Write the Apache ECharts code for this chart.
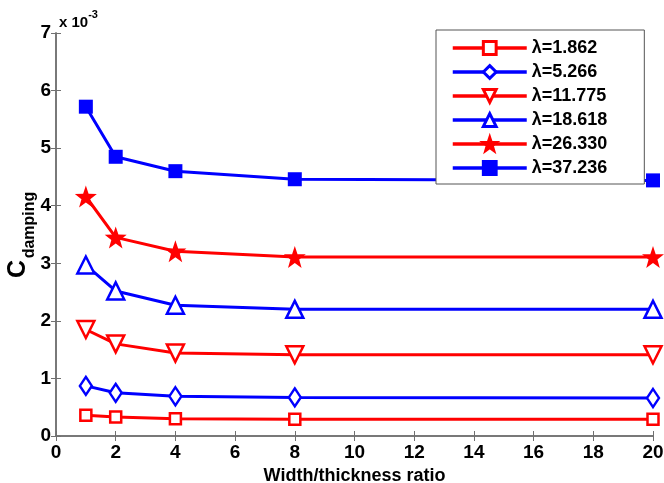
<!DOCTYPE html>
<html>
<head>
<meta charset="utf-8">
<script src="https://cdn.jsdelivr.net/npm/echarts@6/dist/echarts.min.js"></script>
<style>
  html, body { margin: 0; padding: 0; background: #fff; }
  #chart { width: 664px; height: 483px; }
</style>
</head>
<body>
<div id="chart"></div>
<script>
// width/thickness ratios
const ratios = [1, 2, 4, 8, 20];
// C_damping values, in units of 1e-3
const lambda1862 = [0.36, 0.33, 0.30, 0.29, 0.29];
const lambda5266 = [0.87, 0.75, 0.69, 0.67, 0.66];
const lambda11775 = [1.85, 1.60, 1.44, 1.41, 1.41];
const lambda18618 = [2.97, 2.52, 2.27, 2.20, 2.20];
const lambda26330 = [4.16, 3.45, 3.21, 3.11, 3.11];
const lambda37236 = [5.72, 4.85, 4.60, 4.46, 4.44];
const seriesNames = ['λ=1.862', 'λ=5.266', 'λ=11.775', 'λ=18.618', 'λ=26.330', 'λ=37.236'];

const RED = '#ff0000';
const BLUE = '#0000ff';
const STAR = 'path://M0,-10L2.35,-3.24L9.51,-3.09L3.8,1.24L5.88,8.09L0,4L-5.88,8.09L-3.8,1.24L-9.51,-3.09L-2.35,-3.24Z';
const FONT = '"Liberation Sans", Arial, sans-serif';

function pairs(ys) {
  return ratios.map((x, i) => [x, ys[i]]);
}

function makeSeries(name, ys, color, symbol, size, hollow, rotate) {
  return {
    name: name,
    type: 'line',
    data: pairs(ys),
    symbol: symbol,
    symbolSize: size,
    symbolRotate: rotate || 0,
    showAllSymbol: true,
    lineStyle: { color: color, width: 3 },
    itemStyle: {
      color: hollow ? '#fff' : color,
      borderColor: color,
      borderWidth: hollow ? 2.5 : 0
    },
    emphasis: { disabled: true },
    animation: false
  };
}

const chart = echarts.init(document.getElementById('chart'));

const axisLine = { show: true, lineStyle: { color: '#707070', width: 1.5 } };
const axisTick = { show: true, inside: true, length: 5, lineStyle: { color: '#707070', width: 1 } };
const axisLabel = { color: '#000', fontSize: 19, fontWeight: 'bold', fontFamily: FONT };

chart.setOption({
  backgroundColor: '#fff',
  animation: false,
  grid: { left: 56, right: 11, top: 33, bottom: 47, containLabel: false, outerBoundsMode: 'none' },
  xAxis: [
    {
      type: 'value', min: 0, max: 20, interval: 2, position: 'bottom',
      axisLine: axisLine, axisTick: axisTick,
      axisLabel: Object.assign({ margin: 7 }, axisLabel),
      splitLine: { show: false },
      name: 'Width/thickness ratio', nameLocation: 'middle', nameGap: 29,
      nameTextStyle: { color: '#000', fontSize: 18, fontWeight: 'bold', fontFamily: FONT }
    },
    {
      type: 'value', min: 0, max: 20, interval: 2, position: 'top',
      axisLine: axisLine, axisTick: axisTick, axisLabel: { show: false }, splitLine: { show: false }
    }
  ],
  yAxis: [
    {
      type: 'value', min: 0, max: 7, interval: 1, position: 'left',
      axisLine: axisLine, axisTick: axisTick,
      axisLabel: Object.assign({ margin: 5 }, axisLabel),
      splitLine: { show: false }
    },
    {
      type: 'value', min: 0, max: 7, interval: 1, position: 'right',
      axisLine: axisLine, axisTick: axisTick, axisLabel: { show: false }, splitLine: { show: false }
    }
  ],
  legend: {
    orient: 'vertical',
    left: 436,
    top: 30,
    padding: [9, 37, 7, 15],
    itemWidth: 74,
    itemHeight: 16,
    itemGap: 6,
    backgroundColor: '#fff',
    borderColor: '#555',
    borderWidth: 1,
    borderRadius: 0,
    selectedMode: false,
    lineStyle: { width: 3.5 },
    itemStyle: { borderWidth: 3 },
    textStyle: { color: '#000', fontSize: 18, fontWeight: 'bold', fontFamily: FONT },
    data: seriesNames
  },
  graphic: [
    {
      type: 'text', left: 59, top: 9,
      style: {
        text: '{a|x 10}{b|-3}',
        rich: {
          a: { fontSize: 15, fontWeight: 'bold', fontFamily: FONT, fill: '#000', padding: [6, 0, 0, 0] },
          b: { fontSize: 11, fontWeight: 'bold', fontFamily: FONT, fill: '#000', verticalAlign: 'top' }
        }
      }
    },
    {
      type: 'text', x: 18, y: 269, rotation: Math.PI / 2,
      style: {
        text: 'C', align: 'center', verticalAlign: 'middle',
        fontSize: 25, fontWeight: 'bold', fontFamily: FONT, fill: '#000'
      }
    },
    {
      type: 'text', x: 30, y: 225, rotation: Math.PI / 2,
      style: {
        text: 'damping', align: 'center', verticalAlign: 'middle',
        fontSize: 16, fontWeight: 'bold', fontFamily: FONT, fill: '#000'
      }
    }
  ],
  series: [
    makeSeries(seriesNames[0], lambda1862, RED, 'rect', 11, true),
    makeSeries(seriesNames[1], lambda5266, BLUE, 'diamond', [12, 18], true),
    makeSeries(seriesNames[2], lambda11775, RED, 'triangle', 17, true, 180),
    makeSeries(seriesNames[3], lambda18618, BLUE, 'triangle', 17, true),
    makeSeries(seriesNames[4], lambda26330, RED, STAR, 22, false),
    makeSeries(seriesNames[5], lambda37236, BLUE, 'rect', 14, false)
  ]
});
</script>
</body>
</html>
